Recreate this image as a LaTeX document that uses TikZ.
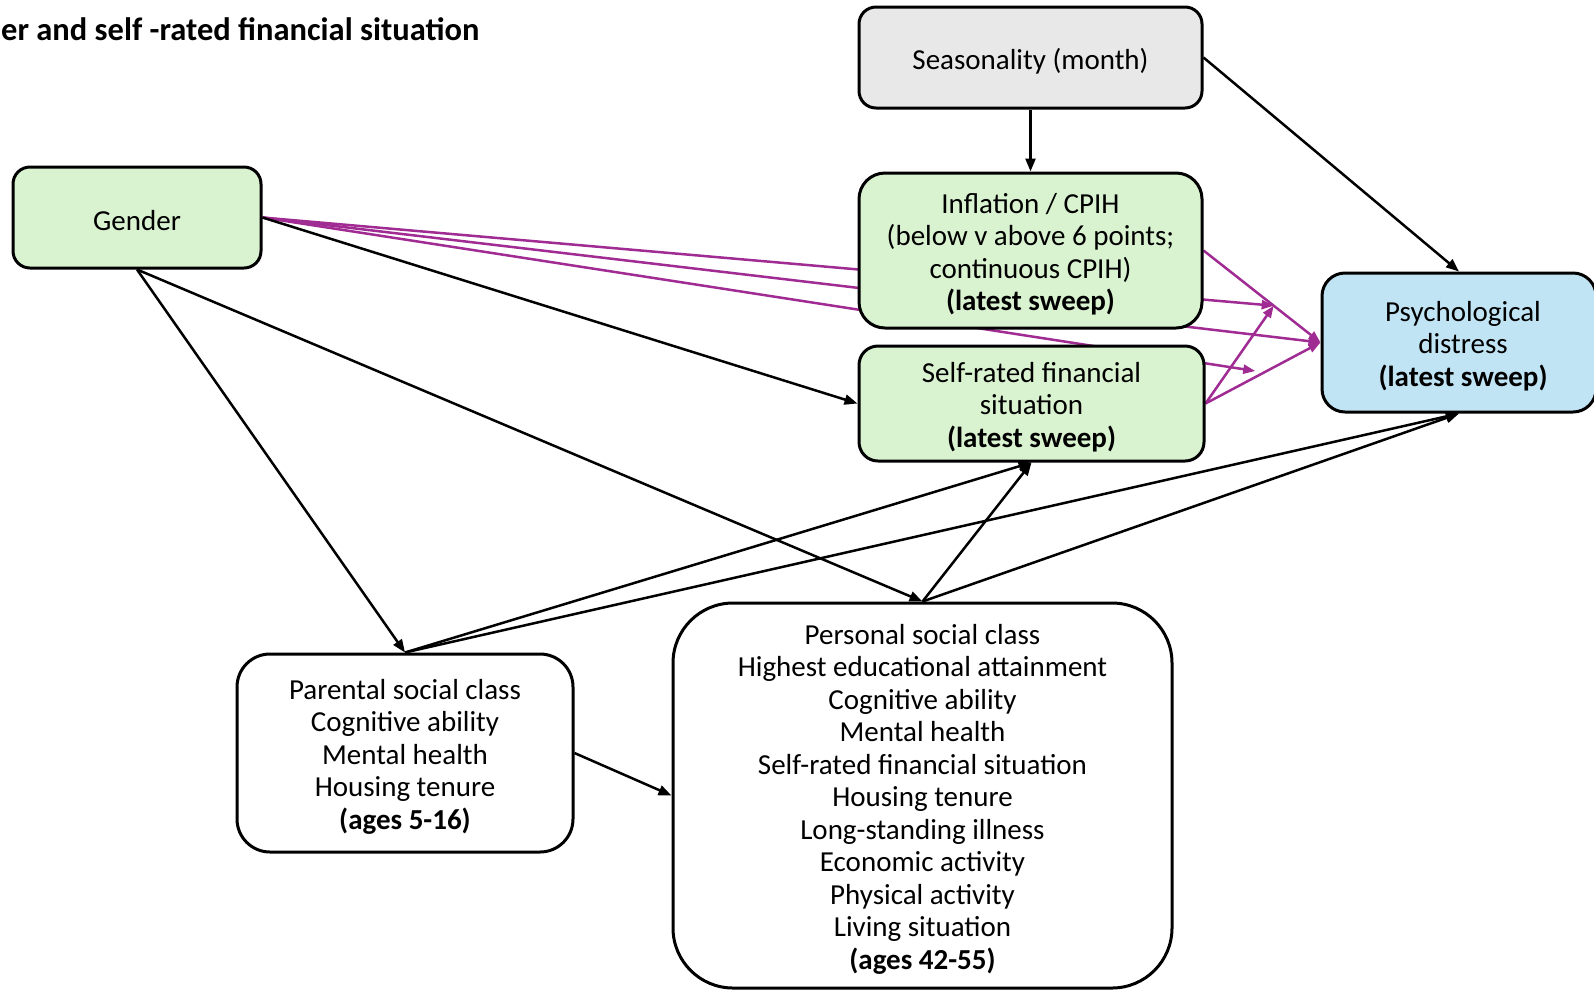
\documentclass[tikz,border=0pt]{standalone}
\usepackage{fontspec}
\setmainfont{Carlito}
\usetikzlibrary{arrows.meta,calc,backgrounds}
\definecolor{boxgreen}{HTML}{D9F2D0}
\definecolor{boxgray}{HTML}{E8E8E8}
\definecolor{boxblue}{HTML}{C1E4F5}
\definecolor{linkpurple}{HTML}{A02B93}
\tikzset{
  varbox/.style={draw=black, line width=3pt, inner sep=0pt},
  boxtext/.style={align=center, inner sep=0pt, yshift=-3.5pt,
    font=\fontsize{29}{32.5}\selectfont},
  link/.style={line width=2.5pt, -{Triangle[length=13pt,width=10pt]}},
  modlink/.style={draw=linkpurple, line width=2.5pt, -{Triangle[length=12pt,width=9pt]}},
}
\begin{document}
\begin{tikzpicture}[x=1pt,y=-1pt]
\useasboundingbox (0,0) rectangle (1594,989);
\clip (0,0) rectangle (1594,989);

% heading
\node[anchor=base west, inner sep=0pt, font=\fontsize{32.5}{38}\selectfont\bfseries]
  (title) at (1,40) {er and self -rated financial situation};

% variable boxes
\node[varbox, fill=boxgray, rounded corners=17pt, minimum width=343pt, minimum height=101pt]
  (seas) at (1030.5,57.5) {};
\node[varbox, fill=boxgreen, rounded corners=17pt, minimum width=248pt, minimum height=101pt]
  (gender) at (137,217.5) {};
\node[varbox, fill=boxgreen, rounded corners=26pt, minimum width=343pt, minimum height=155pt]
  (infl) at (1030.5,250.5) {};
\node[varbox, fill=boxgreen, rounded corners=19pt, minimum width=345pt, minimum height=115pt]
  (self) at (1031.5,403.5) {};
\node[varbox, fill=boxblue, rounded corners=23pt, minimum width=274pt, minimum height=139pt]
  (distress) at (1459,342.5) {};
\node[varbox, fill=white, rounded corners=33pt, minimum width=336pt, minimum height=198pt]
  (parental) at (405,753) {};
\node[varbox, fill=white, rounded corners=60pt, minimum width=499pt, minimum height=385pt]
  (personal) at (922.5,795.5) {};

% box texts
\node[boxtext] (seas-t) at (seas.center) {Seasonality (month)};
\node[boxtext] (gender-t) at (gender.center) {Gender};
\node[boxtext] (infl-t) at (infl.center) {Inflation / CPIH\\(below v above 6 points;\\continuous CPIH)\\\textbf{(latest sweep)}};
\node[boxtext] (self-t) at (self.center) {Self-rated financial\\situation\\\textbf{(latest sweep)}};
\node[boxtext] (distress-t) at ([xshift=4pt]distress.center) {Psychological\\distress\\\textbf{(latest sweep)}};
\node[boxtext] (parental-t) at (parental.center) {Parental social class\\Cognitive ability\\Mental health\\Housing tenure\\\textbf{(ages 5-16)}};
\node[boxtext] (personal-t) at (personal.center) {Personal social class\\Highest educational attainment\\Cognitive ability\\Mental health\\Self-rated financial situation\\Housing tenure\\Long-standing illness\\Economic activity\\Physical activity\\Living situation\\\textbf{(ages 42-55)}};

% points on the paths whose effects are moderated
\coordinate (modinfl) at ($(infl.east)!0.6!(distress.west)$);
\coordinate (modself) at ($(self.east)!0.51!(distress.west)$);

% moderation paths, behind the boxes
\begin{scope}[on background layer]
  \draw[modlink] (gender.east) -- (modinfl);
  \draw[modlink] (gender.east) -- (distress.west);
  \draw[modlink, shorten >=9pt] (gender.east) -- (modself);
  \draw[modlink] (infl.east) -- (distress.west);
  \draw[modlink] (self.east) -- (modinfl);
  \draw[modlink] (self.east) -- (distress.west);
\end{scope}

% direct paths
\draw[link] (seas.south) -- (infl.north);
\draw[link] (seas.east) -- (distress.north);
\draw[link] (gender.east) -- (self.west);
\draw[link] (gender.south) -- (parental.north);
\draw[link] (gender.south) -- (personal.north);
\draw[link] (parental.north) -- (self.south);
\draw[link] (parental.north) -- (distress.south);
\draw[link] (personal.north) -- (self.south);
\draw[link] (personal.north) -- (distress.south);
\draw[link] (parental.east) -- (personal.west);
\end{tikzpicture}
\end{document}
